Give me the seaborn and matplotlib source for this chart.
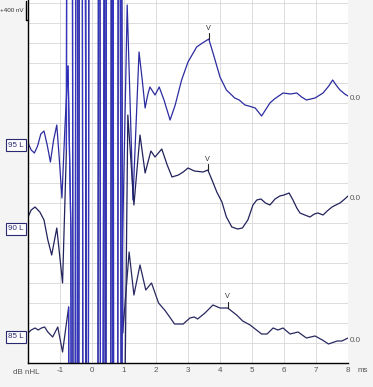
#!/usr/bin/env python3
"""
ABR waveform stack (95/90/85 dB nHL) redrawn with seaborn.
"""

import numpy as np
import pandas as pd
import matplotlib
matplotlib.use("Agg")
import matplotlib.pyplot as plt
import matplotlib.transforms as mtransforms
import seaborn as sns

# ---- data (time in ms, amplitude in nV relative to trace baseline) ----
levels = ["95 L", "90 L", "85 L"]
offsets_nv = [5320, 3320, 460]
label_levels_nv = [4360, 2680, 520]

t_95 = [-2.00, -1.90, -1.80, -1.70, -1.60, -1.50, -1.40, -1.30, -1.20, -1.10,
        -1.02, -0.94, -0.85, -0.75, -0.66, -0.55, -0.34, -0.04, 0.15, 0.60,
        0.72, 0.95, 1.10, 1.28, 1.47, 1.57, 1.66, 1.74, 1.81, 1.97,
        2.10, 2.25, 2.44, 2.60, 2.80, 3.00, 3.27, 3.45, 3.65, 3.80,
        4.00, 4.20, 4.46, 4.60, 4.78, 4.90, 5.10, 5.30, 5.56, 5.70,
        5.97, 6.20, 6.40, 6.55, 6.70, 6.97, 7.22, 7.40, 7.52, 7.65,
        7.75, 7.90, 8.00]
amp_95 = [-920, -1060, -1120, -980, -740, -680, -960, -1300, -860, -560,
          -1260, -2020, -660, 620, -2660, -48060, 51940, -58060, -58060, 61940,
          -48060, -3060, 1840, -2060, 900, 340, -220, 40, 200, 40,
          200, -60, -460, -160, 340, 700, 1000, 1080, 1160, 840,
          400, 140, -20, -60, -160, -180, -220, -380, -120, -40,
          80, 60, 80, 0, -60, -20, 80, 220, 340, 220,
          140, 60, 20]

t_90 = [-2.00, -1.90, -1.78, -1.63, -1.50, -1.38, -1.26, -1.10, -0.92, -0.80,
        -0.70, -0.50, -0.30, -0.10, 0.10, 0.30, 0.50, 0.70, 0.93, 1.12,
        1.31, 1.50, 1.66, 1.84, 1.97, 2.18, 2.35, 2.50, 2.70, 2.85,
        3.00, 3.20, 3.47, 3.62, 3.75, 3.90, 4.06, 4.20, 4.37, 4.55,
        4.70, 4.87, 5.03, 5.15, 5.28, 5.42, 5.56, 5.72, 5.87, 6.00,
        6.16, 6.28, 6.40, 6.50, 6.65, 6.81, 6.95, 7.06, 7.22, 7.35,
        7.50, 7.62, 7.75, 7.90, 8.00]
amp_90 = [-400, -260, -200, -300, -460, -860, -1160, -620, -1720, 940,
          53940, -56060, 63940, -56060, -56060, 63940, -56060, 63940, -10060, 1640,
          -160, 1240, 480, 920, 800, 960, 640, 400, 440, 500,
          580, 520, 500, 540, 340, 100, -100, -400, -600, -640,
          -620, -460, -160, -60, -40, -120, -160, -40, 20, 40,
          80, -60, -220, -320, -360, -400, -340, -320, -360, -280,
          -200, -160, -120, -40, 20]

t_85 = [-2.00, -1.90, -1.78, -1.68, -1.58, -1.48, -1.38, -1.23, -1.07, -0.92,
        -0.73, -0.60, -0.40, -0.20, 0.00, 0.15, 0.35, 0.55, 0.72, 0.85,
        0.96, 1.16, 1.31, 1.50, 1.68, 1.86, 2.08, 2.27, 2.45, 2.58,
        2.85, 3.06, 3.20, 3.30, 3.53, 3.78, 4.00, 4.24, 4.52, 4.71,
        4.94, 5.10, 5.30, 5.47, 5.66, 5.81, 5.97, 6.19, 6.44, 6.70,
        6.97, 7.20, 7.39, 7.66, 7.81, 8.00]
amp_85 = [140, 200, 240, 200, 240, 260, 160, 60, 260, -240,
          660, -43200, 66800, -53200, 66800, 66800, -53200, 66800, -53200, 26800,
          140, 1760, 900, 1500, 1000, 1140, 740, 600, 440, 320,
          320, 440, 460, 420, 540, 700, 640, 640, 500, 380,
          300, 220, 120, 120, 240, 200, 240, 120, 160, 40,
          80, 0, -80, -20, -20, 40]

# wave V latencies (ms)
wave_v_ms = [3.65, 3.62, 4.24]

x_ticks = list(range(-1, 9))


def main():
    sns.set_theme(style="white")
    plt.rcParams["font.family"] = ["Liberation Sans", "DejaVu Sans"]

    W, H = 373, 387
    fig = plt.figure(figsize=(W / 100, H / 100), dpi=100, facecolor="#f4f4f4")
    ax = fig.add_axes([28 / W, (H - 363) / H, 320 / W, 363 / H])
    ax.set_facecolor("white")

    traces = [(t_95, amp_95), (t_90, amp_90), (t_85, amp_85)]
    colors = ["#2c2ca0", "#22225c", "#282860"]
    for (t, a), off, c, name in zip(traces, offsets_nv, colors, levels):
        df = pd.DataFrame({"t": t, "y": np.array(a) + off})
        sns.lineplot(data=df, x="t", y="y", ax=ax, color=c, lw=0.9,
                     estimator=None, sort=False)
        # stimulus artifact drawn in brighter blue
        art = df[(df.t >= -0.8) & (df.t <= 1.0)]
        sns.lineplot(data=art, x="t", y="y", ax=ax, color="#3434c4", lw=0.9,
                     estimator=None, sort=False)

    ax.set_xlim(-2, 8)
    ax.set_ylim(0, 7260)
    ax.set_xticks(x_ticks)
    ax.set_xticklabels([str(v) for v in x_ticks])
    ax.set_yticks(np.arange(400, 7260, 400))
    ax.set_yticklabels([])
    ax.grid(True, color="#dcdcdc", lw=0.7)
    ax.set_axisbelow(True)
    ax.tick_params(axis="x", length=0, pad=3, labelsize=5.8, labelcolor="#555555")
    ax.tick_params(axis="y", length=0)
    ax.set_xlabel("")
    ax.set_ylabel("")
    for s in ["top", "right"]:
        ax.spines[s].set_visible(False)
    for s in ["left", "bottom"]:
        ax.spines[s].set_color("black")
        ax.spines[s].set_linewidth(1.0)

    # wave V markers
    for (t, a), off, lat in zip(traces, offsets_nv, wave_v_ms):
        yv = np.interp(lat, t, np.array(a) + off)
        ax.plot([lat, lat], [yv, yv + 130], color="#222222", lw=0.8)
        ax.text(lat, yv + 150, "V", ha="center", va="bottom", fontsize=5.2,
                color="#333333")

    # end-of-trace "0.0" labels
    for (t, a), off in zip(traces, offsets_nv):
        ax.text(8.05, a[-1] + off - 40, "0.0", ha="left", va="center",
                fontsize=5.8, color="#555555", clip_on=False)

    # level labels on the left
    trans = mtransforms.blended_transform_factory(fig.transFigure, ax.transData)
    for name, yl in zip(levels, label_levels_nv):
        ax.text(16 / W, yl, name, transform=trans, ha="center", va="center",
                fontsize=5.8, color="#2a2a70", clip_on=False,
                bbox=dict(boxstyle="square,pad=0.3", fc="white", ec="#2a2a70", lw=0.8))

    # amplitude scale bar
    fig.add_artist(plt.Line2D([25.5 / W, 25.5 / W], [1 - 0.5 / H, 1 - 20 / H],
                              color="black", lw=1.0))
    fig.add_artist(plt.Line2D([25.5 / W, 28 / W], [1 - 20 / H, 1 - 20 / H],
                              color="black", lw=1.0))
    fig.text(23.5 / W, 1 - 10 / H, "+400 nV", ha="right", va="center",
             fontsize=4.5, color="#333333")

    fig.text(358 / W, 1 - 370 / H, "ms", ha="left", va="center",
             fontsize=5.8, color="#555555")
    fig.text(13 / W, 1 - 373 / H, "dB nHL", ha="left", va="center",
             fontsize=5.8, color="#555555")

    fig.savefig("out.png", dpi=100, facecolor=fig.get_facecolor())
    plt.close(fig)


if __name__ == "__main__":
    main()
